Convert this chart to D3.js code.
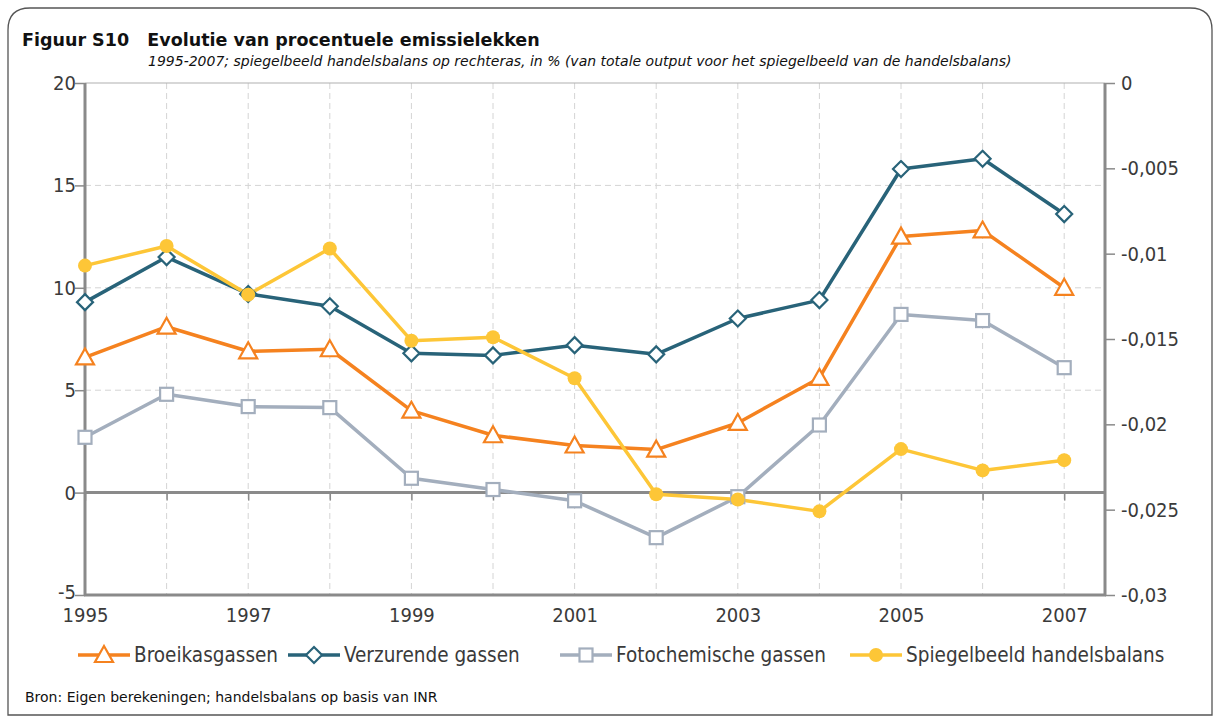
<!DOCTYPE html>
<html lang="nl">
<head>
<meta charset="UTF-8">
<title>Figuur S10</title>
<script src="https://cdn.jsdelivr.net/npm/d3@7"></script>
<style>
body { margin: 0; background: #fff; }
svg text { font-family: "DejaVu Sans Condensed", "DejaVu Sans", sans-serif; fill: #3a3a3a; }
svg text.wide { font-family: "DejaVu Sans", sans-serif; }
</style>
</head>
<body>
<svg id="chart" width="1214" height="722"></svg>
<script>
// data
const years = [1995, 1996, 1997, 1998, 1999, 2000, 2001, 2002, 2003, 2004, 2005, 2006, 2007];
const broeikas = [6.6, 8.1, 6.9, 7.0, 4.0, 2.8, 2.3, 2.1, 3.4, 5.6, 12.5, 12.8, 10.0];
const verzurend = [9.3, 11.5, 9.7, 9.1, 6.8, 6.7, 7.2, 6.75, 8.5, 9.4, 15.8, 16.3, 13.6];
const fotochem = [2.7, 4.8, 4.2, 4.15, 0.7, 0.15, -0.4, -2.2, -0.2, 3.3, 8.7, 8.4, 6.1];
const spiegel = [-0.0107, -0.00955, -0.0124, -0.0097, -0.0151, -0.0149, -0.0173, -0.0241, -0.0244, -0.0251, -0.02145, -0.0227, -0.0221];

const leftTicks = [-5, 0, 5, 10, 15, 20];
const rightTicks = [0, -0.005, -0.01, -0.015, -0.02, -0.025, -0.03];
const yearLabels = [1995, 1997, 1999, 2001, 2003, 2005, 2007];

const series = [
    {name: "Broeikasgassen", values: broeikas, color: "#f5821f", symbol: "triangle", axis: "left"},
    {name: "Verzurende gassen", values: verzurend, color: "#286379", symbol: "diamond", axis: "left"},
    {name: "Fotochemische gassen", values: fotochem, color: "#a3aebd", symbol: "square", axis: "left"},
    {name: "Spiegelbeeld handelsbalans", values: spiegel, color: "#fdc637", symbol: "circle", axis: "right"}
];

const svg = d3.select("#chart");
const X0 = 85, X1 = 1105, Y0 = 83, Y1 = 595;

const x = d3.scaleLinear().domain([1995, 2007.5]).range([X0, X1]);
const yL = d3.scaleLinear().domain([-5, 20]).range([Y1, Y0]);
const yR = d3.scaleLinear().domain([-0.03, 0]).range([Y1, Y0]);

// frame
svg.append("path")
    .attr("d", "M8,30 Q8,8 30,8 L1190,8 Q1212,8 1212,30 L1212,715 L8,715 Z")
    .attr("fill", "none").attr("stroke", "#555").attr("stroke-width", 1.3);

svg.append("text").attr("class", "wide").attr("x", 22).attr("y", 46)
    .style("font-weight", "bold").style("font-size", "17.5px").style("fill", "#111")
    .text("Figuur S10\u00a0\u00a0 Evolutie van procentuele emissielekken");
svg.append("text").attr("class", "wide").attr("x", 148).attr("y", 66)
    .style("font-style", "italic").style("font-size", "14px").style("fill", "#111")
    .text("1995-2007; spiegelbeeld handelsbalans op rechteras, in % (van totale output voor het spiegelbeeld van de handelsbalans)");

// gridlines
const grid = svg.append("g");
grid.selectAll("line.h").data([5, 10, 15]).join("line")
    .attr("x1", X0).attr("x2", X1).attr("y1", d => yL(d)).attr("y2", d => yL(d))
    .attr("stroke", "#d4d4d4").attr("stroke-dasharray", "6,4");
grid.selectAll("line.v").data(years.slice(1)).join("line")
    .attr("x1", d => x(d)).attr("x2", d => x(d)).attr("y1", Y0).attr("y2", Y1)
    .attr("stroke", "#d4d4d4").attr("stroke-dasharray", "6,4");
grid.append("line").attr("x1", X0).attr("x2", X1).attr("y1", Y0).attr("y2", Y0)
    .attr("stroke", "#b0b0b0").attr("stroke-width", 1.2);

// axes
const axisColor = "#8a8a8a";
const hyphen = s => s.replace("\u2212", "-");
const la = svg.append("g").attr("transform", `translate(${X0},0)`)
    .call(d3.axisLeft(yL).tickValues(leftTicks).tickSize(10).tickFormat(d => hyphen(d3.format("d")(d))));
const ra = svg.append("g").attr("transform", `translate(${X1},0)`)
    .call(d3.axisRight(yR).tickValues(rightTicks).tickSize(10)
        .tickFormat(d => d === 0 ? "0" : hyphen(d3.format(".3~f")(d)).replace(".", ",")));
const za = svg.append("g").attr("transform", `translate(0,${yL(0)})`)
    .call(d3.axisBottom(x).tickValues(years).tickSize(8).tickFormat(""));
const ba = svg.append("g").attr("transform", `translate(0,${Y1 + 6})`)
    .call(d3.axisBottom(x).tickValues(yearLabels).tickSize(0).tickFormat(d3.format("d")));
ba.select(".domain").remove();
for (const g of [la, ra, za]) {
    g.select(".domain").attr("stroke", axisColor).attr("stroke-width", 3);
    g.selectAll(".tick line").attr("stroke", axisColor).attr("stroke-width", 1.5);
}
za.select(".domain").attr("d", `M${X0},0H${X1}`);
svg.append("line").attr("x1", X0 - 1).attr("x2", X1 + 1).attr("y1", Y1).attr("y2", Y1)
    .attr("stroke", axisColor).attr("stroke-width", 3);
la.selectAll(".domain").attr("d", `M0,${Y0}V${Y1}`);
ra.selectAll(".domain").attr("d", `M0,${Y0}V${Y1}`);
for (const g of [la, ra, ba]) {
    g.selectAll(".tick text").style("font-size", "20px").attr("fill", "#3a3a3a");
}
la.selectAll(".tick text").attr("x", -9).attr("dy", d => d === -5 ? "0.15em" : "0.32em");
ra.selectAll(".tick text").attr("x", 16);
ba.selectAll(".tick text").attr("dy", "0.9em");

// markers
function drawMarker(g, kind, color, cx, cy) {
    if (kind === "triangle") {
        g.append("path").attr("d", `M${cx},${cy - 9}L${cx + 9},${cy + 7}L${cx - 9},${cy + 7}Z`)
            .attr("fill", "#fff").attr("stroke", color).attr("stroke-width", 2.2);
    } else if (kind === "diamond") {
        g.append("path").attr("d", `M${cx},${cy - 8}L${cx + 8},${cy}L${cx},${cy + 8}L${cx - 8},${cy}Z`)
            .attr("fill", "#fff").attr("stroke", color).attr("stroke-width", 2.2);
    } else if (kind === "square") {
        g.append("rect").attr("x", cx - 6.5).attr("y", cy - 6.5).attr("width", 13).attr("height", 13)
            .attr("fill", "#fff").attr("stroke", color).attr("stroke-width", 2.2);
    } else {
        g.append("circle").attr("cx", cx).attr("cy", cy).attr("r", 7).attr("fill", color);
    }
}

// lines
const plot = svg.append("g");
for (const s of series) {
    const yScale = s.axis === "left" ? yL : yR;
    const line = d3.line().x((d, i) => x(years[i])).y(d => yScale(d));
    plot.append("path").datum(s.values).attr("d", line)
        .attr("fill", "none").attr("stroke", s.color).attr("stroke-width", 3.5)
        .attr("stroke-linejoin", "round");
}
for (const s of series) {
    const yScale = s.axis === "left" ? yL : yR;
    s.values.forEach((v, i) => drawMarker(plot, s.symbol, s.color, x(years[i]), yScale(v)));
}

// legend
const legendX = [78, 288, 560, 850];
const legend = svg.append("g");
series.forEach((s, i) => {
    const lx = legendX[i], ly = 655;
    legend.append("line").attr("x1", lx).attr("x2", lx + 52).attr("y1", ly).attr("y2", ly)
        .attr("stroke", s.color).attr("stroke-width", 3.5);
    drawMarker(legend, s.symbol, s.color, lx + 26, ly);
    legend.append("text").attr("x", lx + 56).attr("y", ly).attr("dy", "0.35em")
        .style("font-size", "20.5px").text(s.name);
});

svg.append("text").attr("class", "wide").attr("x", 25).attr("y", 702)
    .style("font-size", "14px").style("fill", "#111")
    .text("Bron: Eigen berekeningen; handelsbalans op basis van INR");
</script>
</body>
</html>
